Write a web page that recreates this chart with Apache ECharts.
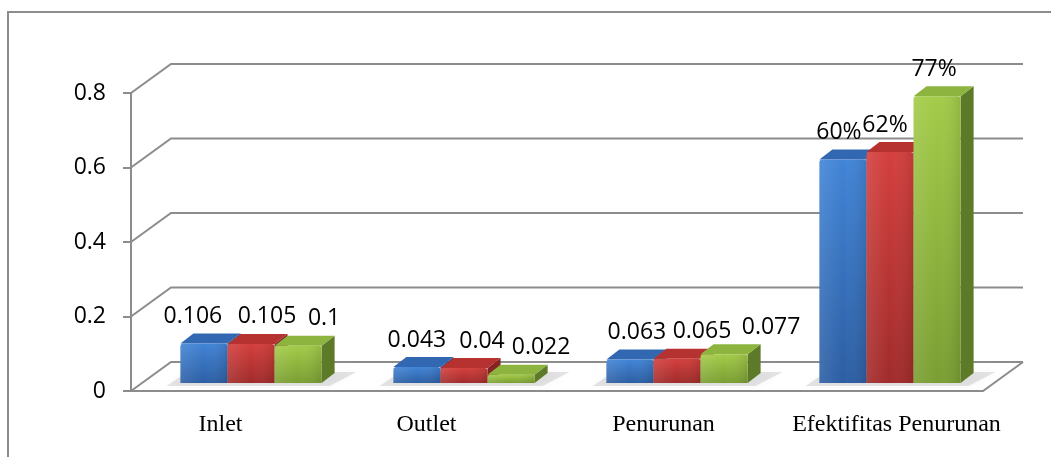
<!DOCTYPE html>
<html>
<head>
<meta charset="utf-8">
<script src="https://cdn.jsdelivr.net/npm/echarts@6/dist/echarts.min.js"></script>
<style>
  html, body { margin: 0; padding: 0; background: #ffffff; }
  #chart { width: 1051px; height: 457px; }
</style>
</head>
<body>
<div id="chart"></div>
<script>
// Categories and measured values for the three samples
const categories = ['Inlet', 'Outlet', 'Penurunan', 'Efektifitas Penurunan'];
const sample1 = [0.106, 0.043, 0.063, 0.60];
const sample2 = [0.105, 0.04, 0.065, 0.62];
const sample3 = [0.1, 0.022, 0.077, 0.77];
const yTicks = [0, 0.2, 0.4, 0.6, 0.8];

// Layout helpers for the pseudo-3D look
const WALL_DX = 40, WALL_DY = 29;      // depth offset of the back wall
const BAR_DX = 13, BAR_DY = 10;        // depth of each box
const BAR_LIFT = 8;                    // boxes stand a little behind the floor front edge
const GROUP_SHIFT = 13.5;              // horizontal shift of the box group toward the middle depth
const BAR_RATIO = 0.221;               // front-face width as a share of the category band
const LABEL_GAP = 27;
// horizontal nudges of the value labels (per sample, per category)
const labelNudge = [
  [-11, 0, 7, -4],
  [16, 18, 25, -5],
  [26, 30, 47, -3]
];
const percentCategory = 3;
const GRID_COLOR = '#8c8c8c';

const palettes = [
  { front: ['#4184d6', '#2c5ea3'], top: '#3268b2', side: '#244c86' },
  { front: ['#d33f3d', '#a02b2a'], top: '#b53230', side: '#842321' },
  { front: ['#a3cb48', '#7a9e32'], top: '#8db43e', side: '#5c7a28' }
];

const chart = echarts.init(document.getElementById('chart'), null, { renderer: 'canvas' });

function formatValue(v, catIdx) {
  if (catIdx === percentCategory) return Math.round(v * 100) + '%';
  return String(v);
}

function frontLeft(api, catIdx, k) {
  const band = api.size([1, 0])[0];
  const bw = band * BAR_RATIO;
  const cx = api.coord([catIdx, 0])[0] + GROUP_SHIFT;
  return { x0: cx - 1.5 * bw + k * bw, bw: bw };
}

function boxSeries(name, values, k) {
  const pal = palettes[k];
  return {
    type: 'custom',
    name: name,
    z: 4,
    silent: true,
    data: values.map((v, i) => [i, v]),
    encode: { x: 0, y: 1 },
    renderItem: function (params, api) {
      const catIdx = api.value(0);
      const v = api.value(1);
      const g = frontLeft(api, catIdx, k);
      const x0 = g.x0, bw = g.bw;
      const yTop = api.coord([catIdx, v])[1] - BAR_LIFT;
      const yBot = api.coord([catIdx, 0])[1] - BAR_LIFT;
      return {
        type: 'group',
        children: [
          {
            type: 'polygon',
            shape: { points: [[x0 + bw, yTop], [x0 + bw + BAR_DX, yTop - BAR_DY], [x0 + bw + BAR_DX, yBot - BAR_DY], [x0 + bw, yBot]] },
            style: { fill: pal.side }
          },
          {
            type: 'polygon',
            shape: { points: [[x0, yTop], [x0 + BAR_DX, yTop - BAR_DY], [x0 + bw + BAR_DX, yTop - BAR_DY], [x0 + bw, yTop]] },
            style: { fill: pal.top }
          },
          {
            type: 'rect',
            shape: { x: x0, y: yTop, width: bw, height: yBot - yTop, r: [3, 3, 0, 0] },
            style: {
              fill: new echarts.graphic.LinearGradient(0, 0, 0, 1, [
                { offset: 0, color: pal.front[0] },
                { offset: 1, color: pal.front[1] }
              ])
            }
          },
          {
            type: 'rect',
            shape: { x: x0, y: yTop, width: bw, height: yBot - yTop },
            style: {
              fill: new echarts.graphic.LinearGradient(0, 0, 1, 0, [
                { offset: 0, color: 'rgba(255,255,255,0.10)' },
                { offset: 0.5, color: 'rgba(255,255,255,0)' },
                { offset: 1, color: 'rgba(0,0,0,0.10)' }
              ])
            }
          },
          {
            type: 'text',
            x: x0 + bw / 2 + labelNudge[k][catIdx],
            y: yTop - LABEL_GAP,
            style: {
              text: formatValue(v, catIdx),
              font: '23px "Open Sans"',
              fill: '#000000',
              align: 'center',
              verticalAlign: 'middle'
            }
          }
        ]
      };
    }
  };
}

// Soft shadow cast on the floor under each box group
const shadowSeries = {
  type: 'custom',
  z: 3,
  silent: true,
  data: categories.map((c, i) => [i, 0]),
  encode: { x: 0, y: 1 },
  renderItem: function (params, api) {
    const catIdx = api.value(0);
    const g = frontLeft(api, catIdx, 0);
    const yBot = api.coord([catIdx, 0])[1] - BAR_LIFT;
    const x1 = g.x0 + 3 * g.bw;
    return {
      type: 'polygon',
      shape: { points: [[g.x0 - 14, yBot + 3], [x1 + 8, yBot + 3], [x1 + BAR_DX + 22, yBot - BAR_DY - 1], [g.x0 + BAR_DX - 6, yBot - BAR_DY - 1]] },
      style: { fill: 'rgba(0,0,0,0.10)', shadowBlur: 8, shadowColor: 'rgba(0,0,0,0.35)' }
    };
  }
};

// Back wall grid lines, side wall diagonals and the floor outline
const wallSeries = {
  type: 'custom',
  z: 1,
  silent: true,
  data: yTicks.map(v => [0, v]),
  encode: { x: 0, y: 1 },
  renderItem: function (params, api) {
    const cs = params.coordSys;
    const v = api.value(1);
    const y = api.coord([0, v])[1];
    const lineStyle = { stroke: GRID_COLOR, lineWidth: 2, fill: null };
    const children = [{
      type: 'polyline',
      shape: { points: [[cs.x, y], [cs.x + WALL_DX, y - WALL_DY], [cs.x + cs.width + WALL_DX, y - WALL_DY]] },
      style: lineStyle
    }];
    if (v === 0) {
      children.push({
        type: 'polyline',
        shape: { points: [[cs.x, y], [cs.x + cs.width, y], [cs.x + cs.width + WALL_DX, y - WALL_DY]] },
        style: lineStyle
      });
    }
    return { type: 'group', children: children };
  }
};

const catShift = [-17, -24, 0, 20];
const richCat = {};
catShift.forEach((s, i) => {
  richCat['c' + i] = {
    fontFamily: '"Liberation Serif", "Times New Roman", serif',
    fontSize: 24,
    color: '#000000',
    padding: s < 0 ? [0, -2 * s, 0, 0] : [0, 0, 0, 2 * s]
  };
});

chart.setOption({
  animation: false,
  backgroundColor: '#ffffff',
  graphic: [{
    type: 'rect',
    shape: { x: 8, y: 12, width: 1100, height: 500 },
    style: { fill: null, stroke: '#8d8d8d', lineWidth: 2 },
    silent: true
  }],
  grid: { left: 131, right: 68, top: 93, bottom: 66 },
  xAxis: {
    type: 'category',
    data: categories,
    axisLine: { show: false },
    axisTick: { show: false },
    splitLine: { show: false },
    axisLabel: {
      interval: 0,
      margin: 22,
      formatter: function (v, i) { return '{c' + i + '|' + v + '}'; },
      rich: richCat
    }
  },
  yAxis: {
    type: 'value',
    min: 0,
    max: 0.8,
    interval: 0.2,
    axisLine: { show: true, lineStyle: { color: GRID_COLOR, width: 2 } },
    axisTick: { show: true, length: 8, lineStyle: { color: GRID_COLOR, width: 2 } },
    splitLine: { show: false },
    axisLabel: {
      margin: 25,
      color: '#000000',
      fontFamily: '"Open Sans", sans-serif',
      fontSize: 23,
      formatter: function (v) { return String(Math.round(v * 10) / 10); }
    }
  },
  series: [
    wallSeries,
    shadowSeries,
    boxSeries('Sampel 1', sample1, 0),
    boxSeries('Sampel 2', sample2, 1),
    boxSeries('Sampel 3', sample3, 2)
  ]
});
</script>
</body>
</html>
